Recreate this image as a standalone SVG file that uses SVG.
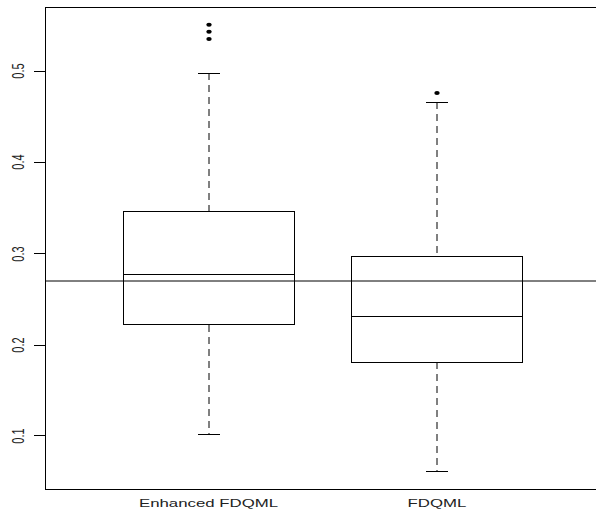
<svg xmlns="http://www.w3.org/2000/svg" width="596" height="517" viewBox="0 0 596 517">
<style>
.ax{stroke:#000;stroke-width:1;fill:none}
.box{stroke:#000;stroke-width:1;fill:none}
.wh{stroke:#000;stroke-width:1;stroke-dasharray:7,5;fill:none}
.tick{font-family:"Liberation Sans",Arial,sans-serif;font-size:11px;fill:#222;text-anchor:middle}
.lbl{font-family:"Liberation Sans",Arial,sans-serif;font-size:11.2px;fill:#222;text-anchor:middle}
</style>
<rect width="596" height="517" fill="#fff"/>
<g id="axes">
<line class="ax" x1="45.5" y1="7" x2="45.5" y2="489.5"/>
<line class="ax" x1="45" y1="7.5" x2="596" y2="7.5"/>
<line class="ax" x1="45" y1="489.5" x2="596" y2="489.5"/>
<g class="ax">
<line x1="34" y1="71.5" x2="45" y2="71.5"/>
<line x1="34" y1="162.5" x2="45" y2="162.5"/>
<line x1="34" y1="253.5" x2="45" y2="253.5"/>
<line x1="34" y1="345.5" x2="45" y2="345.5"/>
<line x1="34" y1="435.5" x2="45" y2="435.5"/>
</g>
<text class="tick" transform="translate(24,71) scale(1.5,1) rotate(-90)">0.5</text>
<text class="tick" transform="translate(24,162) scale(1.5,1) rotate(-90)">0.4</text>
<text class="tick" transform="translate(24,254) scale(1.5,1) rotate(-90)">0.3</text>
<text class="tick" transform="translate(24,345) scale(1.5,1) rotate(-90)">0.2</text>
<text class="tick" transform="translate(24,436) scale(1.5,1) rotate(-90)">0.1</text>
</g>
<g id="box-enhanced">
<line class="wh" x1="209" y1="73" x2="209" y2="211"/>
<line class="wh" x1="209" y1="325" x2="209" y2="434"/>
<line class="box" x1="198" y1="73.5" x2="220" y2="73.5"/>
<line class="box" x1="198" y1="434.5" x2="220" y2="434.5"/>
<rect class="box" x="123.5" y="211.5" width="171" height="113"/>
<line class="box" x1="123.5" y1="274.5" x2="294.5" y2="274.5"/>
<ellipse cx="209" cy="24.7" rx="2.7" ry="2"/>
<ellipse cx="209" cy="31.7" rx="2.7" ry="2"/>
<ellipse cx="209" cy="39" rx="2.7" ry="2"/>
<text class="lbl" transform="translate(208.5,507) scale(1.5,1)">Enhanced FDQML</text>
</g>
<g id="box-fdqml">
<line class="wh" x1="437" y1="102" x2="437" y2="256"/>
<line class="wh" x1="437" y1="362" x2="437" y2="471"/>
<line class="box" x1="426" y1="102.5" x2="448" y2="102.5"/>
<line class="box" x1="426" y1="471.5" x2="448" y2="471.5"/>
<rect class="box" x="351.5" y="256.5" width="171" height="106"/>
<line class="box" x1="351.5" y1="316.5" x2="522.5" y2="316.5"/>
<ellipse cx="437" cy="93" rx="2.7" ry="2"/>
<text class="lbl" transform="translate(437,507) scale(1.5,1)">FDQML</text>
</g>
<g id="connectors">
<line class="ax" x1="45" y1="281" x2="596" y2="281"/>
</g>
</svg>
